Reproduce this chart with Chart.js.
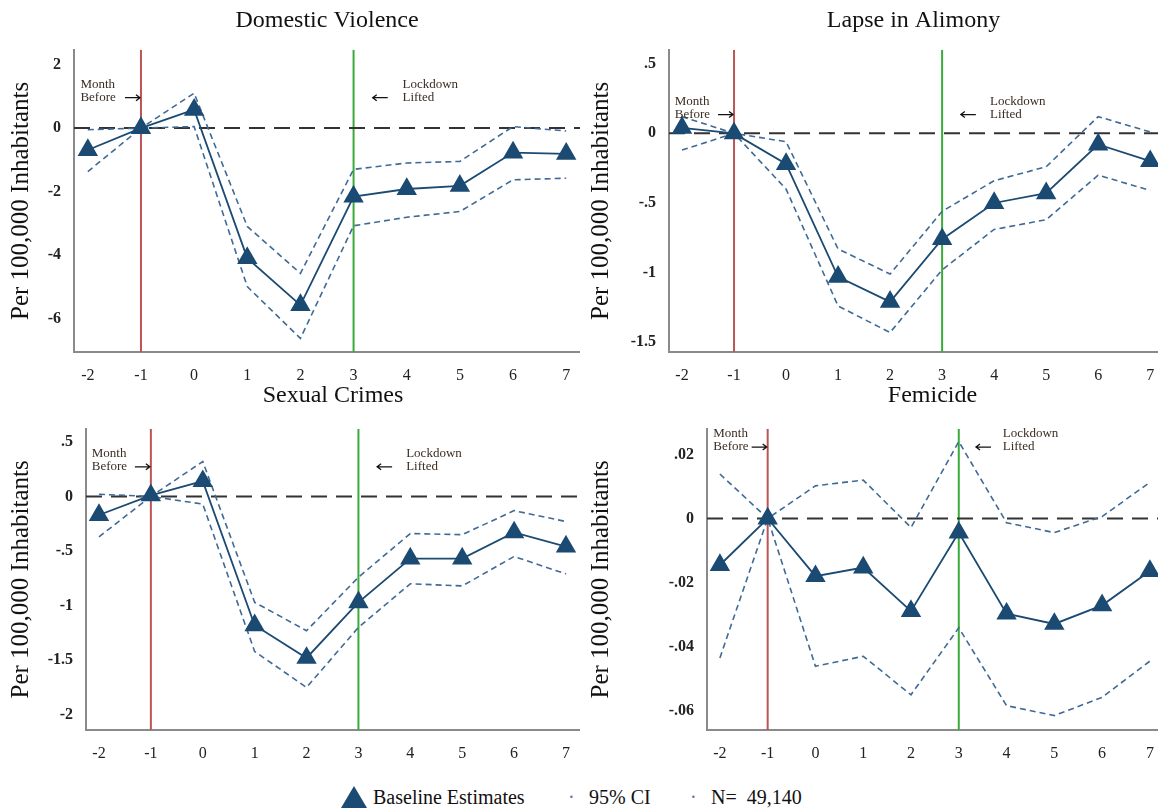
<!DOCTYPE html>
<html>
<head>
<meta charset="utf-8">
<script src="https://cdn.jsdelivr.net/npm/chart.js@4.4.0/dist/chart.umd.min.js"></script>
<style>
body { margin: 0; background: #fff; width: 1158px; height: 812px; position: relative; overflow: hidden; font-family: "Liberation Serif", serif; }
canvas { position: absolute; }
.leg { position: absolute; top: 784px; font-size: 20px; color: #111; line-height: 26px; white-space: pre; }
</style>
</head>
<body>
<canvas id="dv" width="580" height="390" style="left:0;top:0"></canvas>
<canvas id="al" width="578" height="390" style="left:580px;top:0"></canvas>
<canvas id="sc" width="580" height="400" style="left:0;top:378px"></canvas>
<canvas id="fe" width="578" height="400" style="left:580px;top:378px"></canvas>

<svg class="leg" style="left:341px;top:786px" width="26" height="22"><polygon points="13,0 26,22 0,22" fill="#1b4a73"/></svg>
<div class="leg" style="left:373px">Baseline Estimates</div>
<div class="leg" style="left:568px;color:#5a7a9a">·</div>
<div class="leg" style="left:589px">95% CI</div>
<div class="leg" style="left:690px;color:#5a7a9a">·</div>
<div class="leg" style="left:711px">N=  49,140</div>

<script>
// Monate relativ zum Lockdown
const months = [-2, -1, 0, 1, 2, 3, 4, 5, 6, 7];

// Domestic Violence
const dvEst = [-0.69, 0, 0.58, -4.1, -5.58, -2.16, -1.92, -1.82, -0.77, -0.81];
const dvHi = [-0.05, 0, 1.1, -3.1, -4.58, -1.3, -1.1, -1.05, 0.05, -0.09];
const dvLo = [-1.37, 0, 0.05, -5.0, -6.63, -3.08, -2.81, -2.63, -1.63, -1.58];
const dvTicks = [2, 0, -2, -4, -6];
const dvLabels = ["2", "0", "-2", "-4", "-6"];

// Lapse in Alimony
const alEst = [0.04, 0, -0.22, -1.03, -1.21, -0.76, -0.50, -0.43, -0.08, -0.20];
const alHi = [0.12, 0, -0.06, -0.83, -1.01, -0.56, -0.34, -0.24, 0.12, 0.01];
const alLo = [-0.12, 0, -0.40, -1.24, -1.43, -0.98, -0.69, -0.62, -0.30, -0.41];
const alTicks = [0.5, 0, -0.5, -1, -1.5];
const alLabels = [".5", "0", "-.5", "-1", "-1.5"];

// Sexual Crimes
const scEst = [-0.17, 0.01, 0.14, -1.18, -1.48, -0.97, -0.57, -0.57, -0.33, -0.46];
const scHi = [0.02, 0, 0.32, -0.97, -1.23, -0.74, -0.34, -0.35, -0.13, -0.23];
const scLo = [-0.37, 0, -0.07, -1.42, -1.75, -1.20, -0.80, -0.82, -0.55, -0.71];
const scTicks = [0.5, 0, -0.5, -1, -1.5, -2];
const scLabels = [".5", "0", "-.5", "-1", "-1.5", "-2"];

// Femicide
const feEst = [-0.0145, 0, -0.018, -0.0153, -0.0289, -0.0044, -0.0297, -0.0329, -0.0271, -0.0164];
const feHi = [0.0139, 0, 0.0102, 0.012, -0.0028, 0.024, -0.0013, -0.0044, 0.0006, 0.0113];
const feLo = [-0.0435, 0, -0.0461, -0.043, -0.055, -0.0341, -0.0584, -0.0615, -0.0558, -0.0445];
const feTicks = [0.02, 0, -0.02, -0.04, -0.06];
const feLabels = [".02", "0", "-.02", "-.04", "-.06"];

const FONT = "Liberation Serif";

function arrow(ctx, x1, x2, y) {
    // Pfeil von x1 nach x2
    const dir = x2 > x1 ? 1 : -1;
    ctx.beginPath();
    ctx.moveTo(x1, y);
    ctx.lineTo(x2, y);
    ctx.moveTo(x2 - dir * 4, y - 3);
    ctx.lineTo(x2, y);
    ctx.lineTo(x2 - dir * 4, y + 3);
    ctx.stroke();
}

/*
Zeichnet "Month Before" und "Lockdown Lifted" in Datenkoordinaten.
 */
const notesPlugin = {
    id: "notes",
    afterDatasetsDraw(chart, args, opts) {
        const ctx = chart.ctx;
        const x = chart.scales.x;
        const y = chart.scales.y;
        const y2 = y.getPixelForValue(opts.at);
        const y1 = y2 - 13;
        ctx.save();
        ctx.font = "13px '" + FONT + "'";
        ctx.fillStyle = "#3b2d22";
        ctx.textBaseline = "middle";
        ctx.textAlign = "left";
        ctx.fillText("Month", x.getPixelForValue(-2.14), y1);
        ctx.fillText("Before", x.getPixelForValue(-2.14), y2);
        ctx.fillText("Lockdown", x.getPixelForValue(3.92), y1);
        ctx.fillText("Lifted", x.getPixelForValue(3.92), y2);
        ctx.strokeStyle = "#111";
        ctx.lineWidth = 1.3;
        const xa = x.getPixelForValue(-1);
        arrow(ctx, xa - 16, xa - 1, y2);
        const xb = x.getPixelForValue(3.36);
        arrow(ctx, xb + 15, xb, y2);
        ctx.restore();
    }
};

function pts(values) {
    return months.map((m, i) => ({x: m, y: values[i]}));
}

function plotPanel(p) {
    const ciStyle = {
        borderColor: "#3f6a96", borderWidth: 1.6, borderDash: [6, 4],
        pointRadius: 0, fill: false, tension: 0
    };
    new Chart(document.getElementById(p.id), {
        type: "line",
        data: {
            datasets: [
                {
                    data: pts(p.est), borderColor: "#1b4a73", backgroundColor: "#1b4a73",
                    borderWidth: 1.8, pointStyle: "triangle", pointRadius: 10, tension: 0
                },
                Object.assign({data: pts(p.hi)}, ciStyle),
                Object.assign({data: pts(p.lo)}, ciStyle),
                {
                    data: [{x: p.xMin, y: 0}, {x: p.xMax, y: 0}],
                    borderColor: "#333", borderWidth: 2, borderDash: [16, 9], pointRadius: 0
                },
                {
                    data: [{x: -1, y: p.yMin}, {x: -1, y: p.yMax}],
                    borderColor: "#bb5555", borderWidth: 2, pointRadius: 0
                },
                {
                    data: [{x: 3, y: p.yMin}, {x: 3, y: p.yMax}],
                    borderColor: "#3aab3a", borderWidth: 2, pointRadius: 0
                }
            ]
        },
        options: {
            responsive: false,
            animation: false,
            layout: {autoPadding: false, padding: {top: 0, right: 0, bottom: 0, left: 0}},
            plugins: {
                legend: {display: false},
                tooltip: {enabled: false},
                title: {
                    display: true, text: p.title, fullSize: false, color: "#111",
                    font: {family: FONT, size: 24, weight: "normal"},
                    padding: {top: p.titleTop, bottom: p.titleBottom}
                },
                notes: {at: p.noteAt}
            },
            scales: {
                x: {
                    type: "linear", min: p.xMin, max: p.xMax,
                    grid: {display: false, drawTicks: false},
                    border: {display: true, color: "#8a8a8a", width: 2},
                    afterBuildTicks: s => { s.ticks = months.map(v => ({value: v})); },
                    afterFit: s => {
                        s.height = p.xAxisH;
                        s.paddingLeft = 0;
                        s.paddingRight = 0;
                    },
                    ticks: {
                        padding: 14, color: "#222", maxRotation: 0, autoSkip: false,
                        font: {family: FONT, size: 16},
                        callback: v => String(v)
                    }
                },
                y: {
                    type: "linear", min: p.yMin, max: p.yMax,
                    grid: {display: false, drawTicks: false},
                    border: {display: true, color: "#8a8a8a", width: 2},
                    afterBuildTicks: s => { s.ticks = p.yTicks.map(v => ({value: v})); },
                    afterFit: s => {
                        s.width = p.axisW;
                        s.paddingTop = 0;
                        s.paddingBottom = 0;
                    },
                    ticks: {
                        padding: 13, color: "#222", autoSkip: false,
                        font: {family: FONT, size: 16, weight: "bold"},
                        callback: (v, i) => p.yLabels[i]
                    },
                    title: {
                        display: true, text: "Per 100,000 Inhabitants", color: "#111",
                        font: {family: FONT, size: 25}, padding: {top: 6, bottom: 0}
                    }
                }
            }
        },
        plugins: [notesPlugin]
    });
}

plotPanel({id: "dv", title: "Domestic Violence", est: dvEst, hi: dvHi, lo: dvLo,
    yMin: -7.06, yMax: 2.47, yTicks: dvTicks, yLabels: dvLabels, xMin: -2.26, xMax: 7.26,
    axisW: 74, xAxisH: 38, titleTop: 6, titleBottom: 15, noteAt: 0.96});
plotPanel({id: "al", title: "Lapse in Alimony", est: alEst, hi: alHi, lo: alLo,
    yMin: -1.57, yMax: 0.6, yTicks: alTicks, yLabels: alLabels, xMin: -2.25, xMax: 7.15,
    axisW: 89, xAxisH: 38, titleTop: 6, titleBottom: 15, noteAt: 0.135});
plotPanel({id: "sc", title: "Sexual Crimes", est: scEst, hi: scHi, lo: scLo,
    yMin: -2.14, yMax: 0.62, yTicks: scTicks, yLabels: scLabels, xMin: -2.25, xMax: 7.27,
    axisW: 86, xAxisH: 48, titleTop: 3, titleBottom: 19, noteAt: 0.272});
plotPanel({id: "fe", title: "Femicide", est: feEst, hi: feHi, lo: feLo,
    yMin: -0.066, yMax: 0.028, yTicks: feTicks, yLabels: feLabels, xMin: -2.27, xMax: 7.17,
    axisW: 127, xAxisH: 48, titleTop: 3, titleBottom: 19, noteAt: 0.0223});
</script>
</body>
</html>
